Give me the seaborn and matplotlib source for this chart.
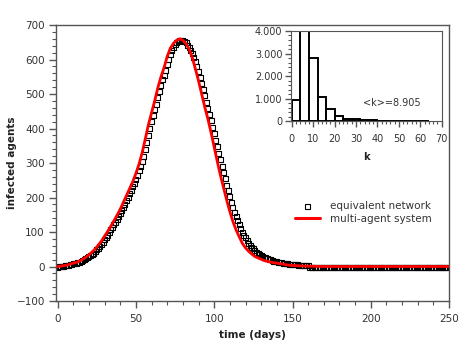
import numpy as np
import pandas as pd
import matplotlib
matplotlib.use("Agg")
import matplotlib.pyplot as plt
from matplotlib.ticker import MultipleLocator, FixedLocator
from matplotlib.lines import Line2D
import seaborn as sns

# ---------------- data ----------------
# equivalent network (squares), one value per day 0..250
net_days = list(range(0, 251))
net_vals = [
    -2, -1, 0, 1, 1, 2, 3, 4, 5, 6,
    8, 9, 10, 12, 13, 15, 17, 19, 22, 25,
    28, 31, 35, 39, 43, 48, 53, 58, 64, 70,
    77, 84, 91, 98, 106, 113, 121, 129, 137, 145,
    153, 162, 171, 181, 191, 201, 211, 221, 231, 241,
    252, 264, 277, 290, 304, 320, 340, 360, 380, 400,
    419, 437, 454, 471, 489, 507, 525, 541, 555, 569,
    585, 600, 614, 626, 636, 643, 649, 653, 655, 656,
    655, 652, 648, 642, 635, 627, 618, 607, 594, 580,
    565, 548, 531, 513, 495, 476, 458, 440, 422, 404,
    385, 366, 347, 328, 309, 290, 272, 254, 236, 219,
    203, 187, 172, 158, 145, 133, 121, 110, 100, 91,
    83, 75, 68, 62, 56, 51, 46, 42, 38, 35,
    32, 29, 27, 25, 23, 21, 19, 18, 16, 15,
    14, 13, 12, 11, 10, 9, 9, 8, 7, 7,
    6, 6, 5, 5, 4, 4, 4, 3, 3, 3,
    2, -2, -2, -2, -2, -2, -2, -2, -2, -2,
    -2, -2, -2, -2, -2, -2, -2, -2, -2, -2,
    -2, -2, -2, -2, -2, -2, -2, -2, -2, -2,
    -2, -2, -2, -2, -2, -2, -2, -2, -2, -2,
    -2, -2, -2, -2, -2, -2, -2, -2, -2, -2,
    -2, -2, -2, -2, -2, -2, -2, -2, -2, -2,
    -2, -2, -2, -2, -2, -2, -2, -2, -2, -2,
    -2, -2, -2, -2, -2, -2, -2, -2, -2, -2,
    -2, -2, -2, -2, -2, -2, -2, -2, -2, -2,
    -2,
]

# multi-agent system (red line)
mas_days = [0, 2, 4, 6, 8, 10, 12, 14, 16, 18,
            20, 22, 24, 26, 28, 30, 32, 34, 36, 38,
            40, 42, 44, 46, 48, 50, 52, 54, 56, 58,
            60, 62, 64, 66, 68, 70, 72, 74, 76, 78,
            80, 82, 84, 86, 88, 90, 92, 94, 96, 98,
            100, 102, 104, 106, 108, 110, 112, 114, 116, 118,
            120, 122, 124, 126, 128, 130, 132, 134, 136, 138,
            140, 142, 144, 146, 148, 150, 155, 160, 170, 180,
            190, 200, 210, 220, 230, 240, 250]
mas_vals = [0, 1, 3, 4, 7, 10, 12, 16, 21, 27,
            34, 42, 51, 62, 74, 88, 102, 117, 133, 149,
            166, 186, 206, 226, 246, 270, 297, 330, 370, 411,
            446, 480, 518, 550, 577, 609, 633, 647, 656, 660,
            656, 646, 630, 606, 573, 538, 500, 462, 427, 388,
            346, 304, 264, 228, 192, 159, 130, 106, 86, 67,
            54, 44, 36, 29, 25, 21, 17, 15, 13, 11,
            10, 8, 7, 5, 4, 3, 2, 1, 0, 0,
            0, 0, 0, 0, 0, 0, 0]

# degree distribution (inset)
k_edges = [0, 4, 8, 12, 16, 20, 24, 28, 32, 36, 40, 44, 48, 52, 56, 60, 64]
k_counts = [945, 3990, 2820, 1060, 560, 236, 130, 100, 75, 70, 22, 16, 12, 9, 6, 5]
k_label = "<k>=8.905"
inset_ytick_vals = [0, 1000, 2000, 3000, 4000]
inset_ytick_labels = ["0", "1.000", "2.000", "3.000", "4.000"]

# ---------------- plot ----------------
sns.set_style("ticks")
plt.rcParams["font.family"] = ["DejaVu Sans"]
txt = "#333333"
spc = "#555555"
plt.rcParams.update({
    "axes.edgecolor": spc, "xtick.color": spc, "ytick.color": spc,
    "xtick.labelcolor": txt, "ytick.labelcolor": txt,
    "axes.labelcolor": "#222222",
})

fig = plt.figure(figsize=(4.63, 3.48), dpi=100)
ax = fig.add_axes([0.121, 0.135, 0.849, 0.793])

net_df = pd.DataFrame({"day": net_days, "val": net_vals})
mas_df = pd.DataFrame({"day": mas_days, "val": mas_vals})

sns.scatterplot(data=net_df, x="day", y="val", ax=ax, marker="s", s=13,
                facecolors="none", edgecolors="black", linewidths=0.8,
                zorder=2, legend=False)
sns.lineplot(data=mas_df, x="day", y="val", ax=ax, color="#ff0000",
             linewidth=2.0, zorder=3, legend=False)

ax.set_xlim(-1, 250)
ax.set_ylim(-100, 700)
ax.xaxis.set_major_locator(MultipleLocator(50))
ax.xaxis.set_minor_locator(MultipleLocator(10))
ax.yaxis.set_major_locator(MultipleLocator(100))
ax.yaxis.set_minor_locator(MultipleLocator(20))
ax.tick_params(which="major", length=5, width=1, labelsize=7.5, pad=3)
ax.tick_params(axis="x", which="major", pad=4)
ax.tick_params(which="minor", length=3, width=0.8)
ax.set_xlabel("time (days)", fontsize=7.5, fontweight="bold", labelpad=5)
ax.set_ylabel("infected agents", fontsize=7.5, fontweight="bold", labelpad=0)
for s in ax.spines.values():
    s.set_linewidth(1.0)

handles = [
    Line2D([], [], marker="s", linestyle="none", markersize=3.6,
           markerfacecolor="none", markeredgecolor="black", markeredgewidth=0.8),
    Line2D([], [], color="#ff0000", linewidth=2.2),
]
ax.legend(handles, ["equivalent network", "multi-agent system"],
          loc="upper left", bbox_to_anchor=(0.584, 0.395), frameon=False,
          fontsize=7.5, handlelength=2.4, handletextpad=1.0,
          labelspacing=0.25, labelcolor=txt)

# inset
axi = fig.add_axes([0.628, 0.651, 0.326, 0.260])
k_mid = [(a + b) / 2 for a, b in zip(k_edges[:-1], k_edges[1:])]
sns.histplot(x=k_mid, weights=k_counts, bins=k_edges, ax=axi,
             facecolor="white", edgecolor="black", linewidth=1.4, alpha=1)
axi.set_xlim(-0.5, 70)
axi.set_ylim(0, 4000)
axi.xaxis.set_major_locator(MultipleLocator(10))
axi.xaxis.set_minor_locator(MultipleLocator(2))
axi.yaxis.set_major_locator(FixedLocator(inset_ytick_vals))
axi.set_yticklabels(inset_ytick_labels)
axi.yaxis.set_minor_locator(MultipleLocator(200))
axi.tick_params(which="major", length=4, width=1, labelsize=7, pad=2)
axi.tick_params(axis="x", which="major", pad=5)
axi.tick_params(which="minor", length=2.5, width=0.8)
axi.set_xlabel("k", fontsize=7, fontweight="bold", labelpad=6)
axi.set_ylabel("")
axi.text(0.48, 0.2, k_label, transform=axi.transAxes, fontsize=7, color=txt,
         ha="left", va="center")

fig.savefig("out.png", dpi=100)
